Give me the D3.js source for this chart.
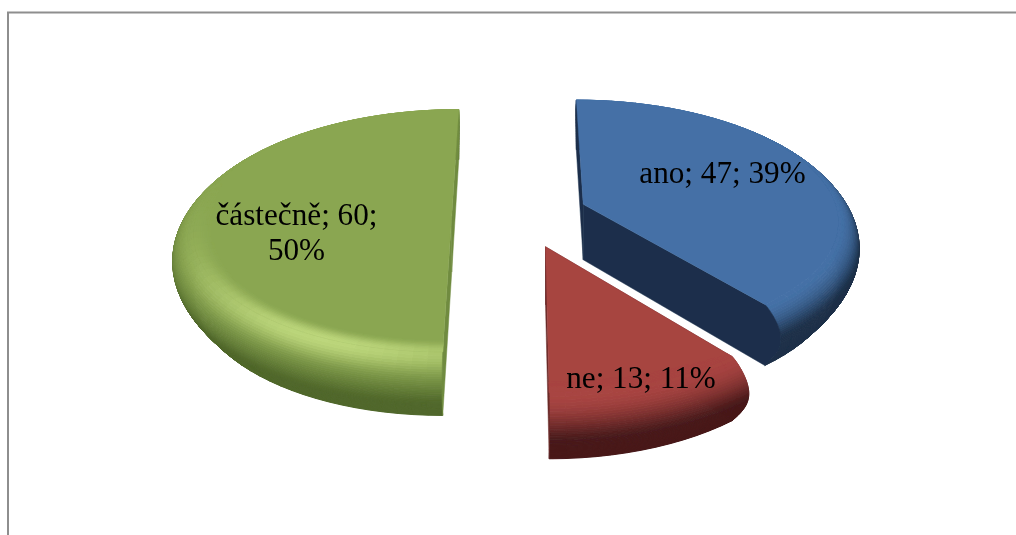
<!DOCTYPE html>
<html><head><meta charset="utf-8">
<script src="https://cdn.jsdelivr.net/npm/d3@7/dist/d3.min.js"></script>
<style>html,body{margin:0;padding:0;background:#fff;overflow:hidden}svg{display:block}</style>
</head><body><svg id="c" width="1016" height="535"></svg>
<script>
const categories = ["ano", "ne", "částečně"];
const values = [47, 13, 60];
const percents = ["39%", "11%", "50%"];
const flatColors = ["#4470a6", "#a74441", "#8aa651"];
const darkColors = ["#1c3048", "#47191a", "#4f672a"];
const wallColors = ["#1b2f4b", "#6a2a28", "#6f8b3f"];
const highlightColors = ["#4470a6", "#b04b48", "#bcd67b"];
const highlightAmount = [0, 0.2, 1];
const darkenEnd = [0.42, 0.55, 0.68];
const explodes = [0.27, 0.29, 0.256];
const nudgeX = [2, 3, 0];
const nudgeY = [-1, -3, 0];
const labelLines = [["ano; 47; 39%"], ["ne; 13; 11%"], ["částečně; 60;", "50%"]];
const labelX = [722.5, 641, 296.5];
const labelY = [183, 388, 225];

const W = 1016, H = 535;
const svg = d3.select("#c");
const defs = svg.append("defs");
defs.append("filter").attr("id", "soft")
  .attr("x", "-5%").attr("y", "-5%").attr("width", "110%").attr("height", "110%")
  .append("feGaussianBlur").attr("stdDeviation", 0.7);
defs.append("filter").attr("id", "softT").append("feGaussianBlur").attr("stdDeviation", 0.35);

// frame
svg.append("path").attr("d", `M8,${H}V12.5H${W}`).attr("fill", "none")
  .attr("stroke", "#8e8e8e").attr("stroke-width", 2);

// perspective model of the pie plane
const vanishX = 517, vanishY = -770, planeH = 986, persp = 0.121;
const radiusPx = 255, outerR = 1.08, depth = 56, ringInner = 0.92;
const xScale = d3.scaleLinear().domain([0, 1]).range([vanishX, vanishX + radiusPx]);
function project(u, v, d) {
  const w = 1 / (1 + persp * v);
  return [vanishX + (xScale(u) - vanishX) * w, vanishY + (planeH + d) * w];
}
const line = d3.line();
const pie = d3.pie().sort(null).value(d => d).startAngle(0).endAngle(2 * Math.PI);
const arcs = pie(values);

// bevel profile: s=0 edge of the flat top, s=1 bottom of the body
const profR = s => 1 + (outerR - 1) * Math.sin(Math.PI * Math.pow(s, 0.8));
const profD = s => depth * s;
const smooth = (a, b, x) => { const t = Math.max(0, Math.min(1, (x - a) / (b - a))); return t * t * (3 - 2 * t); };
const lobeAt = theta => Math.exp(-Math.pow((theta * 180 / Math.PI - 205) / 38, 2));

function shade(i, theta, s) {
  const c = d3.interpolateRgb(flatColors[i], darkColors[i])(smooth(0.0, darkenEnd[i], s));
  const band = Math.exp(-Math.pow(s / 0.15, 2));
  return d3.interpolateRgb(c, highlightColors[i])(highlightAmount[i] * lobeAt(theta) * band);
}

arcs.forEach((a, i) => {
  const mid = (a.startAngle + a.endAngle) / 2;
  const cu = explodes[i] * Math.sin(mid), cv = explodes[i] * Math.cos(mid);
  const P = (th, r, d) => {
    const p = project(cu + r * Math.sin(th), cv + r * Math.cos(th), d);
    return [p[0] + nudgeX[i], p[1] + nudgeY[i]];
  };
  const g = svg.append("g").attr("class", "slice").attr("filter", "url(#soft)");
  const sSteps = d3.range(0, 1.0001, 1 / 40);

  const drawWall = th => {
    const pts = [P(th, 0, 0)];
    sSteps.forEach(s => pts.push(P(th, profR(s), profD(s))));
    pts.push(P(th, 0, depth));
    g.append("path").attr("d", line(pts) + "Z").attr("fill", wallColors[i]).attr("stroke", wallColors[i]).attr("stroke-width", 0.5);
  };
  const walls = [[a.startAngle, a.startAngle - Math.PI / 2], [a.endAngle, a.endAngle + Math.PI / 2]];
  const facing = w => Math.cos(w[1]) < 0.01;
  walls.filter(w => !facing(w)).forEach(w => drawWall(w[0]));

  // rounded rim: painted from the bottom up
  const step = Math.PI / 60;
  const n = Math.ceil((a.endAngle - a.startAngle) / step);
  const ths = d3.range(n + 1).map(k => a.startAngle + (a.endAngle - a.startAngle) * k / n);
  for (let j = sSteps.length - 2; j >= 0; j--) {
    const s0 = sSteps[j], s1 = sSteps[j + 1];
    for (let k = 0; k < n; k++) {
      const col = shade(i, (ths[k] + ths[k + 1]) / 2, (s0 + s1) / 2);
      const q = [P(ths[k], profR(s0), profD(s0)), P(ths[k + 1], profR(s0), profD(s0)),
                 P(ths[k + 1], profR(s1), profD(s1)), P(ths[k], profR(s1), profD(s1))];
      g.append("path").attr("d", line(q) + "Z").attr("fill", col).attr("stroke", col).attr("stroke-width", 1);
    }
  }
  walls.filter(facing).forEach(w => drawWall(w[0]));

  // flat top
  const top = [P(a.startAngle, 0, 0)].concat(ths.map(t => P(t, 1, 0)));
  g.append("path").attr("d", line(top) + "Z").attr("fill", flatColors[i]).attr("stroke", flatColors[i]).attr("stroke-width", 0.4);

  // soft ramp on the flat top running into the lit edge
  if (highlightAmount[i] > 0) {
    const ringSteps = d3.range(0, 1.0001, 1 / 10);
    for (let j = 0; j < ringSteps.length - 1; j++) {
      const r0 = ringInner + (1 - ringInner) * ringSteps[j];
      const r1 = ringInner + (1 - ringInner) * ringSteps[j + 1];
      const ramp = smooth(0, 1, (ringSteps[j] + ringSteps[j + 1]) / 2);
      for (let k = 0; k < n; k++) {
        const th = (ths[k] + ths[k + 1]) / 2;
        const amt = highlightAmount[i] * lobeAt(th) * ramp;
        if (amt < 0.01) continue;
        const col = d3.interpolateRgb(flatColors[i], highlightColors[i])(amt);
        const q = [P(ths[k], r0, 0), P(ths[k + 1], r0, 0), P(ths[k + 1], r1, 0), P(ths[k], r1, 0)];
        g.append("path").attr("d", line(q) + "Z").attr("fill", col).attr("stroke", col).attr("stroke-width", 0.8);
      }
    }
  }
});

// labels
const lab = svg.append("g").attr("filter", "url(#softT)");
labelLines.forEach((ls, i) => {
  ls.forEach((t, j) => {
    lab.append("text").attr("x", labelX[i]).attr("y", labelY[i] + j * 34.5)
      .attr("text-anchor", "middle").attr("font-family", "'Liberation Serif','Times New Roman',serif")
      .attr("font-size", 31.2).attr("fill", "#000").text(t);
  });
});
</script></body></html>
